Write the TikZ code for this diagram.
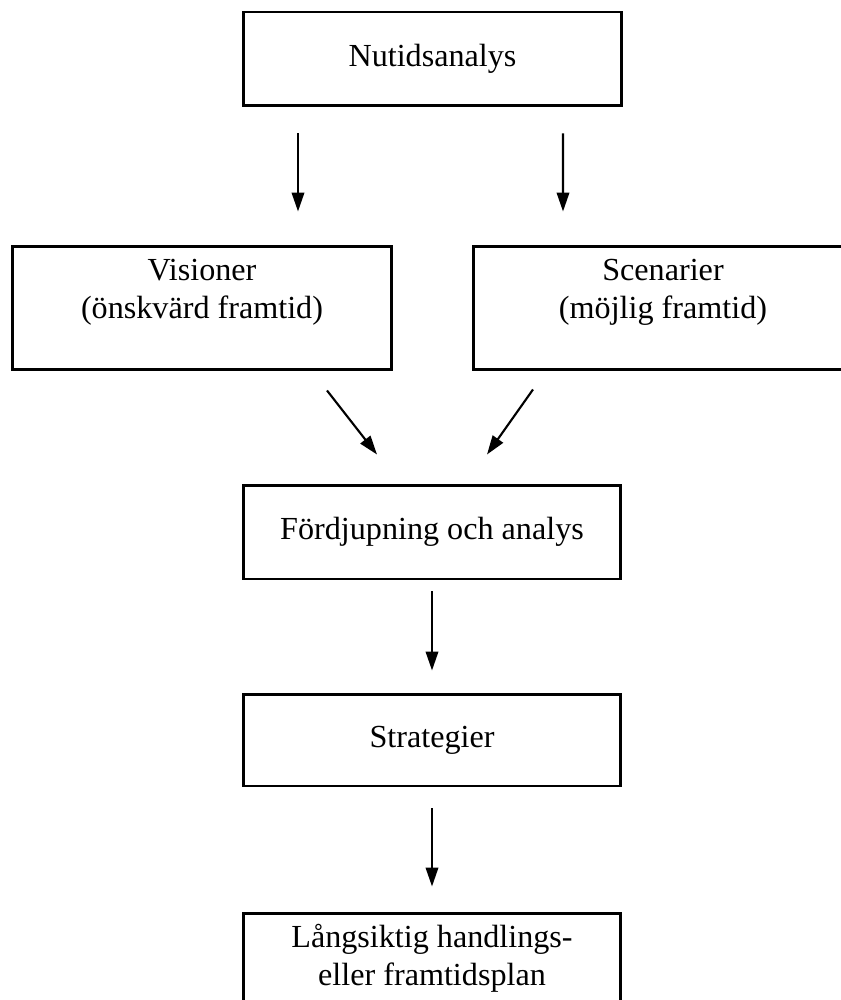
\documentclass[tikz,border=0pt]{standalone}
\usepackage{fontspec}
\setmainfont{Liberation Serif}
\usetikzlibrary{arrows.meta}

\tikzset{
	ruta/.style={draw, line width=1.7pt, align=center, inner sep=0pt, font=\fontsize{18.3}{21.5}\selectfont},
	pil/.style={line width=1.2pt, -{Triangle[length=0.38cm, width=0.25cm]}}
}

\begin{document}
\begin{tikzpicture}[x=0.02cm, y=-0.02cm]
	\useasboundingbox (0,0) rectangle (840,1000);

	%% Rutor
	\node[ruta, minimum width=7.58cm, minimum height=1.88cm] (nut) at (432.5,59) {Nutidsanalys};
	\node[ruta, minimum width=7.6cm, minimum height=2.48cm] (vis) at (202,308) {Visioner\\(önskvärd framtid)\\\mbox{}};
	\node[ruta, minimum width=7.6cm, minimum height=2.48cm] (scen) at (663,308) {Scenarier\\(möjlig framtid)\\\mbox{}};
	\node[ruta, minimum width=7.56cm, minimum height=1.88cm] (ford) at (432,532) {Fördjupning och analys};
	\node[ruta, minimum width=7.56cm, minimum height=1.84cm] (strat) at (432,740) {Strategier};
	\node[ruta, minimum width=7.56cm, minimum height=1.8cm] (plan) at (432,958) {Långsiktig handlings-\\eller framtidsplan};
	%%%%%%%%%%%%%%%%

	%% Pilar
	\draw[pil] ([shift={(-134.5,26)}]nut.south) -- ([shift={(96,-33)}]vis.north);
	\draw[pil] ([shift={(130.5,26)}]nut.south) -- ([shift={(-100,-33)}]scen.north);
	\draw[pil] ([shift={(125,19)}]vis.south) -- ([shift={(-55,-29)}]ford.north);
	\draw[pil] ([shift={(-130,18)}]scen.south) -- ([shift={(55,-29)}]ford.north);
	\draw[pil] ([shift={(0,11)}]ford.south) -- ([shift={(0,-22)}]strat.north);
	\draw[pil] ([shift={(0,21)}]strat.south) -- ([shift={(0,-25)}]plan.north);
\end{tikzpicture}
\end{document}
